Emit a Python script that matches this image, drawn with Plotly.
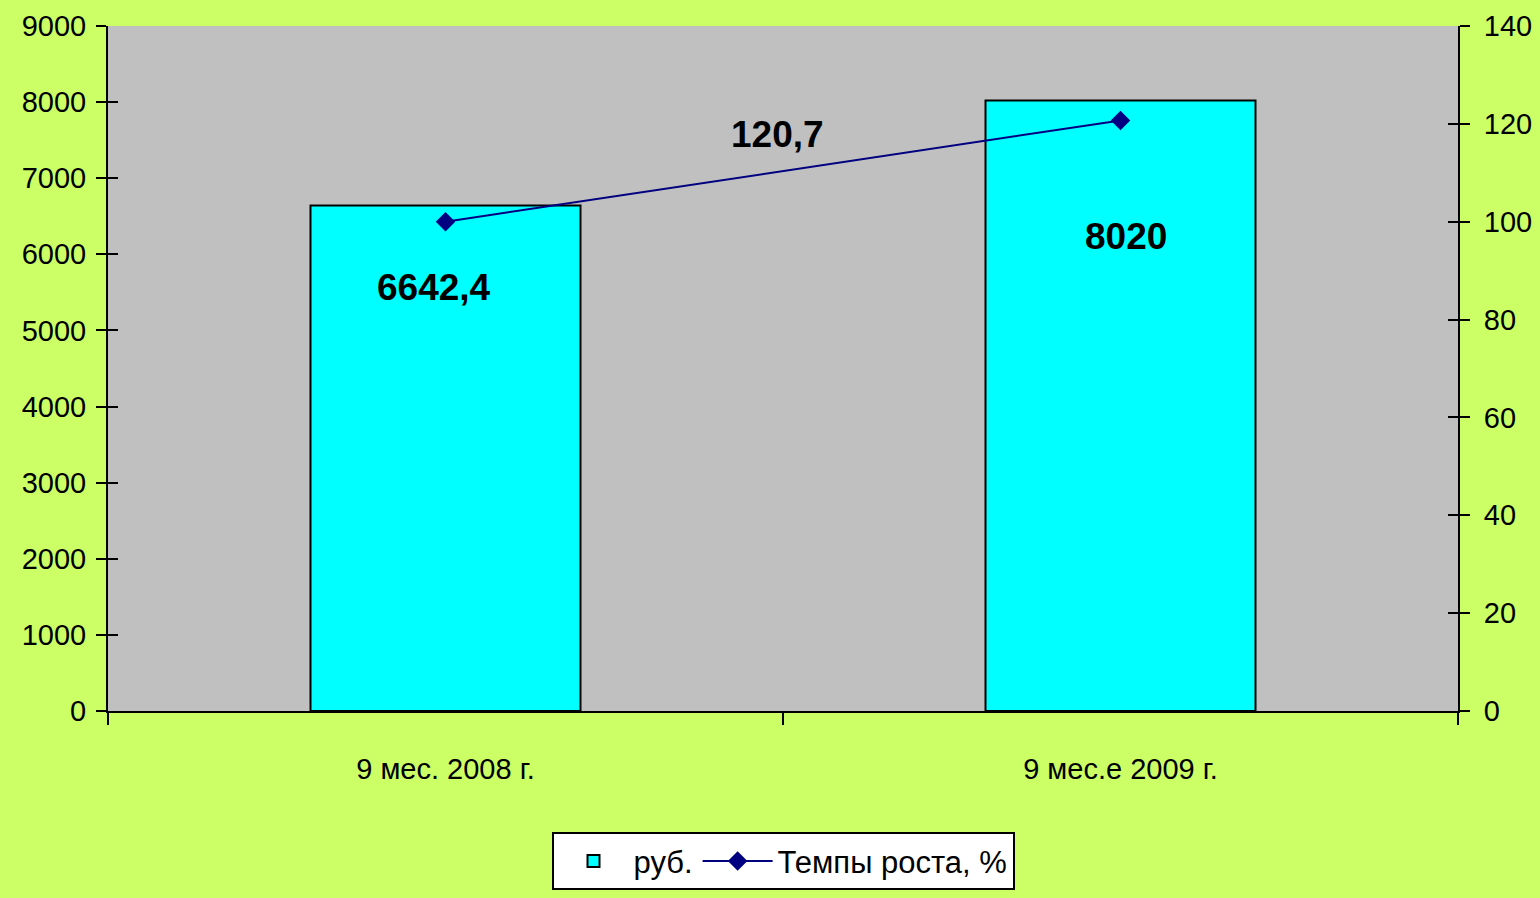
import plotly.graph_objects as go

# --- data ---
categories = ["9 мес. 2008 г.", "9 мес.е 2009 г."]
rub_values = [6642.4, 8020]
growth_pct = [100, 120.7]
bar_labels = ["6642,4", "8020"]
growth_label = "120,7"

NARROW = "Liberation Sans Narrow, Arial Narrow, Liberation Sans, Arial, sans-serif"
BG = "#CCFF66"

fig = go.Figure()

fig.add_trace(go.Bar(
    x=categories, y=rub_values, name="руб.",
    marker=dict(color="#00FFFF", line=dict(color="black", width=2)),
    width=0.4, yaxis="y",
))

fig.add_trace(go.Scatter(
    x=categories, y=growth_pct, name="Темпы роста, %",
    mode="lines+markers",
    line=dict(color="#000080", width=2),
    marker=dict(symbol="diamond", size=15, color="#000080"),
    yaxis="y2",
))

# data labels (Excel style positions)
label_y = [5570, 6240]
for cat, txt, yy in zip(categories, bar_labels, label_y):
    fig.add_annotation(x=cat, y=yy, xref="x", yref="y", text=f"<b>{txt}</b>",
                       showarrow=False, xshift=-12 if txt == "6642,4" else 5,
                       font=dict(family=NARROW, size=37, color="black"))
fig.add_annotation(x=0.496, y=0.841, xref="paper", yref="paper",
                   xanchor="center", yanchor="middle",
                   text=f"<b>{growth_label}</b>", showarrow=False,
                   font=dict(family=NARROW, size=37, color="black"))

tick_font = dict(family=NARROW, size=29, color="black")

fig.update_layout(
    width=1540, height=898,
    paper_bgcolor=BG, plot_bgcolor="#C0C0C0",
    margin=dict(l=108, r=82, t=26, b=187),
    bargap=0.6,
    showlegend=True,
    legend=dict(orientation="h", x=0.5, xanchor="center",
                yref="container", y=0.073, yanchor="top",
                bgcolor="white", bordercolor="black", borderwidth=2,
                font=dict(family=NARROW, size=31, color="black"),
                itemwidth=70, traceorder="normal"),
    xaxis=dict(showline=True, linecolor="black", linewidth=2, automargin=False,
               ticks="outside", ticklen=12, tickwidth=2, tickcolor="black",
               tickson="boundaries", tickfont=dict(family=NARROW, size=29, color="black"),
               showgrid=False, ticklabelstandoff=31),
    yaxis=dict(range=[0, 9000], dtick=1000, showline=True, linecolor="black", linewidth=2,
               ticks="outside", ticklen=10, tickwidth=2, tickcolor="black", automargin=False,
               tickfont=tick_font, showgrid=False, zeroline=False, ticklabelstandoff=4),
    yaxis2=dict(range=[0, 140], dtick=20, overlaying="y", side="right",
                showline=True, linecolor="black", linewidth=2, automargin=False,
                ticks="outside", ticklen=10, tickwidth=2, tickcolor="black",
                tickfont=tick_font, showgrid=False, zeroline=False, ticklabelstandoff=8),
    yaxis3=dict(range=[0, 9000], dtick=1000, overlaying="y", side="left", automargin=False,
                showline=False, ticks="inside", ticklen=10, tickwidth=2, tickcolor="black",
                showticklabels=False, showgrid=False, zeroline=False),
    yaxis4=dict(range=[0, 140], dtick=20, overlaying="y", side="right", automargin=False,
                showline=False, ticks="inside", ticklen=10, tickwidth=2, tickcolor="black",
                showticklabels=False, showgrid=False, zeroline=False),
)

# invisible traces so the inner tick axes get drawn
fig.add_trace(go.Scatter(x=categories, y=[None, None], yaxis="y3", showlegend=False, hoverinfo="skip"))
fig.add_trace(go.Scatter(x=categories, y=[None, None], yaxis="y4", showlegend=False, hoverinfo="skip"))

fig.write_html("out.html", config={"displayModeBar": False},
               post_script="document.body.style.margin='0';document.body.style.overflow='hidden';"
                           "document.body.style.background='#CCFF66';")
